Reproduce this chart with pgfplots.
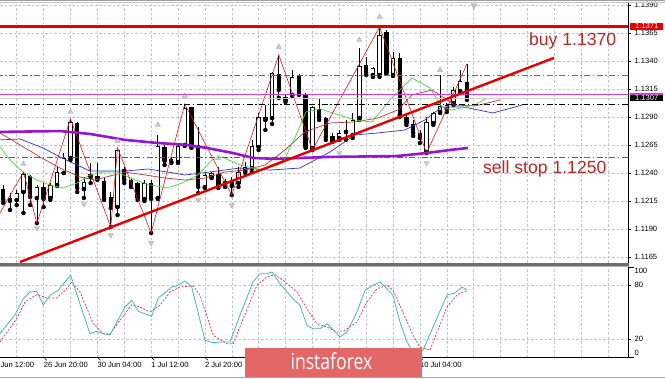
\documentclass[border=0pt]{standalone}
\usepackage{fontspec}
\setmainfont{Liberation Sans}
\newfontfamily\wmfont{Open Sans}
\usepackage{graphicx}
\usepackage{pgfplots}
\usepackage{pgfplotstable}
\pgfplotsset{compat=1.18}

\definecolor{hred}{RGB}{232,0,0}
\definecolor{zz}{RGB}{205,30,30}
\definecolor{ma}{RGB}{150,20,210}
\definecolor{jaw}{RGB}{50,50,190}
\definecolor{teeth}{RGB}{190,50,50}
\definecolor{lips}{RGB}{70,210,70}
\definecolor{stk}{RGB}{70,185,175}
\definecolor{std}{RGB}{215,50,70}
\definecolor{anno}{RGB}{180,40,40}
\definecolor{mag}{RGB}{210,60,210}
\definecolor{sgreen}{RGB}{40,130,40}
\definecolor{wm}{RGB}{226,104,104}
\definecolor{gridc}{RGB}{195,195,195}
\definecolor{sep}{RGB}{110,110,110}

\newcommand\tf{\fontsize{7.6}{8}\selectfont}

\pgfplotstableread{
k o h l c
2 1.12161 1.12250 1.12116 1.12223
3 1.12232 1.12410 1.12045 1.12393
5 1.12179 1.12295 1.11955 1.12277
7 1.12179 1.12312 1.12161 1.12295
8 1.12295 1.12455 1.12286 1.12410
9 1.12402 1.12580 1.12402 1.12536
10 1.12536 1.12884 1.12518 1.12857
12 1.12259 1.12366 1.12179 1.12321
17 1.12098 1.12625 1.12027 1.12607
21 1.12170 1.12339 1.12152 1.12312
23 1.12179 1.12741 1.12170 1.12643
25 1.12500 1.12545 1.12491 1.12527
26 1.12500 1.12652 1.12491 1.12643
27 1.12652 1.13017 1.12643 1.12982
30 1.12277 1.12402 1.12268 1.12384
31 1.12366 1.12410 1.12357 1.12402
33 1.12303 1.12348 1.12277 1.12330
35 1.12312 1.12455 1.12277 1.12410
36 1.12419 1.12500 1.12402 1.12455
37 1.12446 1.12697 1.12410 1.12643
38 1.12634 1.12937 1.12607 1.12901
39 1.12875 1.13008 1.12785 1.12901
40 1.12892 1.13303 1.12839 1.13294
42 1.13053 1.13098 1.13035 1.13080
43 1.13098 1.13321 1.13089 1.13258
46 1.12625 1.12999 1.12607 1.12991
50 1.12714 1.12785 1.12697 1.12759
51 1.12768 1.12875 1.12697 1.12785
52 1.12741 1.12937 1.12714 1.12875
53 1.12892 1.13517 1.12875 1.13356
55 1.13276 1.13347 1.13258 1.13338
56 1.13276 1.13704 1.13258 1.13633
58 1.13276 1.13481 1.13267 1.13428
63 1.12589 1.12901 1.12580 1.12857
64 1.12848 1.12946 1.12830 1.12937
65 1.12946 1.13276 1.12937 1.12999
66 1.12973 1.13026 1.12946 1.13008
67 1.13026 1.13169 1.13008 1.13142
68 1.13133 1.13321 1.13115 1.13222
}\bull

\pgfplotstableread{
k o h l c
0 1.12259 1.12295 1.12134 1.12161
1 1.12179 1.12223 1.12072 1.12152
4 1.12375 1.12384 1.12116 1.12188
6 1.12277 1.12312 1.12098 1.12170
11 1.12848 1.12857 1.12232 1.12268
13 1.12393 1.12491 1.12312 1.12366
14 1.12375 1.12491 1.12339 1.12357
15 1.12330 1.12357 1.12161 1.12179
16 1.12188 1.12232 1.11920 1.12089
18 1.12437 1.12455 1.12312 1.12339
19 1.12339 1.12357 1.12277 1.12303
20 1.12312 1.12321 1.12161 1.12179
22 1.12312 1.12339 1.11867 1.12170
24 1.12634 1.12652 1.12473 1.12509
28 1.12991 1.12991 1.12625 1.12634
29 1.12652 1.12812 1.12223 1.12277
32 1.12393 1.12455 1.12268 1.12286
34 1.12330 1.12366 1.12205 1.12286
41 1.13285 1.13454 1.13071 1.13142
44 1.13276 1.13285 1.13098 1.13106
45 1.13098 1.13115 1.12625 1.12634
47 1.12973 1.13071 1.12875 1.12901
48 1.12892 1.12901 1.12697 1.12723
49 1.12732 1.12759 1.12679 1.12688
54 1.13365 1.13437 1.13276 1.13294
57 1.13660 1.13677 1.13285 1.13294
59 1.13428 1.13472 1.12901 1.12919
60 1.12901 1.12937 1.12830 1.12848
61 1.12839 1.12875 1.12732 1.12759
62 1.12759 1.12785 1.12670 1.12714
69 1.13214 1.13374 1.13053 1.13071
}\bear

\pgfplotsset{
  mtaxis/.style={
    scale only axis, anchor=south west, width=628pt,
    xmin=-0.49, xmax=92.97,
    axis line style={draw=none},
    xtick={2,6,...,90}, xticklabels={}, x tick style={draw=none},
    xmajorgrids, ymajorgrids,
    grid style={gridc, dash pattern=on 2.5pt off 2pt, line width=0.5pt},
    ytick pos=right, yticklabel pos=right,
    tick align=outside, major tick length=3pt,
    y tick style={black, line width=0.5pt},
    yticklabel style={font=\tf, text=black},
    clip mode=individual,
  },
  wick/.style={only marks, mark=none, forget plot,
    error bars/.cd, y dir=plus, y explicit, error mark=none,
    error bar style={draw=black, line width=0.7pt}},
  bodyb/.style={only marks, mark=none, forget plot,
    error bars/.cd, y dir=plus, y explicit, error mark=none,
    error bar style={draw=black, line width=4.4pt}},
  bodyw/.style={only marks, mark=none, forget plot,
    error bars/.cd, y dir=plus, y explicit, error mark=none,
    error bar style={draw=white, line width=2.8pt, shorten <=0.8pt, shorten >=0.8pt}},
}

\begin{document}
\begin{tikzpicture}
\useasboundingbox (0,0) rectangle (665pt,379pt);
\fill[white] (0,0) rectangle (665pt,379pt);

% ---------------- main price panel ----------------
\begin{axis}[mtaxis, at={(0pt,116pt)}, height=260pt,
  ymin=1.11599, ymax=1.13918,
  ytick={1.1165,1.1190,1.1215,1.1240,1.1265,1.1290,1.1315,1.1340,1.1365,1.1390},
  yticklabels={1.1165,1.1190,1.1215,1.1240,1.1265,1.1290,1.1315,1.1340,1.1365,1.1390}]

% candles
\addplot[wick] table[x=k, y=l, y error expr=\thisrow{h}-\thisrow{l}] {\bull};
\addplot[wick] table[x=k, y=l, y error expr=\thisrow{h}-\thisrow{l}] {\bear};
\addplot[bodyb] table[x=k, y=o, y error expr=\thisrow{c}-\thisrow{o}] {\bull};
\addplot[bodyw] table[x=k, y=o, y error expr=\thisrow{c}-\thisrow{o}] {\bull};
\addplot[bodyb] table[x=k, y=c, y error expr=\thisrow{o}-\thisrow{c}] {\bear};

% moving average (thick purple)
\addplot[ma, line width=2.6pt] coordinates {
(-0.49,1.12768) (8.44,1.12776) (12.90,1.12750) (18.11,1.12697) (22.87,1.12670)
(27.34,1.12652) (30.3,1.12625) (34.18,1.12580) (37.16,1.12536) (40.73,1.12527)
(44.15,1.12536) (48.62,1.12545) (58.58,1.12553) (63.05,1.12580) (66.47,1.12607)
(69.15,1.12625)};

% alligator jaw
\addplot[jaw, line width=0.7pt] coordinates {
(-0.49,1.12697) (2.49,1.12705) (5.91,1.12625) (8.44,1.12545) (10.97,1.12473)
(12.90,1.12419) (18.11,1.12419) (21.53,1.12437) (24.51,1.12410) (27.04,1.12384)
(29.57,1.12402) (32.99,1.12428) (35.22,1.12446) (39.69,1.12428) (44.15,1.12446)
(48.62,1.12589) (52.33,1.12741) (55.75,1.12759) (59.77,1.12785) (62.75,1.12875)
(65.28,1.12991) (68.41,1.12991) (72.87,1.12937) (77.19,1.13008)};

% alligator teeth
\addplot[teeth, line width=0.7pt] coordinates {
(-0.49,1.12759) (2.49,1.12652) (5.46,1.12545) (8.44,1.12446) (11.41,1.12366)
(13.65,1.12339) (15.88,1.12375) (18.11,1.12410) (21.09,1.12384) (24.06,1.12357)
(27.04,1.12339) (30.01,1.12357) (32.99,1.12410) (35.97,1.12428) (38.94,1.12473)
(41.92,1.12607) (44.87,1.12768) (48.62,1.12848) (52.33,1.12857) (55.75,1.12892)
(58.72,1.12964) (60.82,1.13098) (63.8,1.13142) (67.22,1.13008) (70.19,1.12999)
(73.91,1.13053)};

% alligator lips
\addplot[lips, line width=0.7pt] coordinates {
(-0.49,1.12634) (1.0,1.12518) (2.93,1.12410) (5.01,1.12339) (6.95,1.12295)
(8.88,1.12268) (10.97,1.12312) (12.90,1.12384) (14.84,1.12410) (16.92,1.12410)
(19.6,1.12339) (21.83,1.12295) (24.51,1.12268) (26.59,1.12312) (28.97,1.12384)
(31.06,1.12518) (32.54,1.12545) (35.22,1.12473) (38.64,1.12428) (41.62,1.12491)
(43.71,1.12759) (45.04,1.12946) (47.13,1.12973) (49.06,1.12937) (52.33,1.12875)
(54.86,1.12857) (57.54,1.13053) (60.82,1.13249) (63.5,1.13160) (65.28,1.12991)
(66.77,1.12964) (70.19,1.13008) (71.98,1.13071)};

% zigzag
\addplot[zz, line width=0.6pt] coordinates {
(-0.49,1.12045) (3,1.12410) (5,1.11955) (10,1.12884) (16,1.11920) (17,1.12625)
(22,1.11867) (27,1.13017) (34,1.12205) (41,1.13454) (46,1.12607) (56,1.13704)
(63,1.12580) (69,1.13374)};

% fractals
\addplot[only marks, mark=triangle*, mark size=3pt,
  mark options={fill=gray!40, draw=gray!65, line width=0.4pt}] coordinates {
(3,1.12482) (10,1.12946) (17,1.12688) (23,1.12830) (27,1.13089) (32,1.12536)
(41,1.13526) (53,1.13588) (56,1.13793) (65,1.13321)};
\addplot[only marks, mark=triangle*, mark size=3pt,
  mark options={rotate=180, fill=gray!40, draw=gray!65, line width=0.4pt}] coordinates {
(5,1.11911) (12,1.12125) (16,1.11849) (22,1.11778) (29,1.12161) (34,1.12116)
(50,1.12580) (63,1.12491)};
% chart shift marker
\addplot[only marks, mark=triangle*, mark size=3.4pt,
  mark options={rotate=180, fill=gray!50, draw=gray!60}] coordinates {(70.05,1.13895)};

% horizontal levels
\addplot[gray!40, line width=0.6pt] coordinates {(-1,1.1307) (95,1.1307)};
\addplot[mag, line width=0.8pt] coordinates {(-1,1.1310) (95,1.1310)};
\addplot[gray!85!black, line width=1.3pt, dash pattern=on 6pt off 2.5pt on 1.5pt off 2.5pt] coordinates {(-1,1.1327) (95,1.1327)};
\addplot[black, line width=0.8pt, dash pattern=on 6pt off 2.5pt on 1.5pt off 2.5pt] coordinates {(-1,1.1301) (95,1.1301)};
\addplot[sgreen, line width=0.8pt, dash pattern=on 6pt off 2.5pt on 1.5pt off 2.5pt] coordinates {(-1,1.1254) (95,1.1254)};
\addplot[hred, line width=2.6pt] coordinates {(-1,1.1371) (95,1.1371)};

% support trend line
\addplot[hred, line width=2.4pt] coordinates {(2.49,1.11608) (81.95,1.13428)};

% annotations
\node[anchor=base west, inner sep=0, text=anno, font=\fontsize{17.6}{18}\selectfont] at (axis cs:78.23,1.13535) {buy 1.1370};
\node[anchor=base west, inner sep=0, text=anno, font=\fontsize{17.6}{18}\selectfont] at (axis cs:71.38,1.12393) {sell stop 1.1250};

% right axis line
\draw[black, line width=0.8pt] (rel axis cs:1,0) -- (rel axis cs:1,1);

% price boxes
\node[anchor=west, xshift=2pt, fill=hred, text=white, inner xsep=3.5pt, inner ysep=0.6pt, font=\tf, minimum width=33pt] at (axis cs:92.97,1.1371) {1.1371};
\fill[mag] ([xshift=2pt,yshift=-4pt]axis cs:92.97,1.1310) rectangle ([xshift=35pt,yshift=1.5pt]axis cs:92.97,1.1310);
\node[anchor=west, xshift=2pt, fill=black, text=white, inner xsep=3.5pt, inner ysep=0.6pt, font=\tf, minimum width=33pt] at (axis cs:92.97,1.1307) {1.1307};
\end{axis}

% panel separator
\fill[sep] (0,113pt) rectangle (629pt,116.2pt);
\draw[gray!60, line width=0.5pt] (0,112.6pt) -- (629pt,112.6pt);

% ---------------- stochastic panel ----------------
\begin{axis}[mtaxis, at={(0pt,21.7pt)}, height=90pt,
  ymin=0, ymax=100, ytick={20,80}, yticklabels={20,80}]
\addplot[std, line width=0.7pt, dash pattern=on 2pt off 1.5pt] coordinates {
(-0.49,17) (1.99,42.9) (3.23,61.4) (4.97,69.6) (6.46,65.9) (7.95,65.9) (9.18,74.4)
(10.18,83.7) (11.41,72.6) (13.39,37.3) (14.88,26.2) (15.88,26.2) (17.37,41.1)
(19.11,58.4) (20.34,55.9) (21.83,50.3) (23.32,57.8) (24.81,72.6) (26.29,78.1)
(28.27,79.2) (29.27,68.9) (31.25,24.4) (33.24,15.1) (34.23,15.1) (35.67,42.0)
(37.75,80) (39.24,89.2) (40.43,91.8) (41.62,85.6) (43.71,72.6) (45.19,54)
(46.68,37.3) (48.17,33.7) (49.66,28.1) (50.84,30) (52.63,39.2) (54.12,61.4)
(55.61,76.2) (57.1,80) (57.99,74.4) (59.48,50.3) (60.97,24.4) (62.01,11.4)
(63.5,8.1) (66.03,55.9) (67.52,69.2) (68.71,73.7) (69.0,72.6)};
\addplot[stk, line width=0.8pt] coordinates {
(-0.49,26.2) (1.74,47.3) (2.98,65.1) (3.97,72.6) (4.97,73.3) (5.95,58.4) (6.95,68.9)
(8.18,74.4) (9.18,83.7) (10.03,91.1) (11.16,65.1) (12.90,26.2) (13.90,28.9)
(14.88,26.2) (15.88,25.1) (18.11,55.9) (19.11,63.3) (20.09,51.1) (22.08,45.6)
(23.07,65.9) (24.06,71.8) (25.06,78.1) (25.80,79.2) (27.04,84.8) (28.04,78.1)
(30.01,18.9) (31.25,16.2) (32.25,17) (33.74,17) (35.22,46.7) (37.16,83.7)
(38.2,92.9) (39.24,92.9) (39.99,94.8) (41.18,81.8) (43.11,65.1) (44.15,57.8)
(45.19,35.6) (46.09,31.8) (47.13,31.8) (48.17,37.3) (48.91,31.8) (50.1,22.6)
(51.15,28.1) (52.63,50.3) (53.82,74.4) (55.01,80) (56.05,83.7) (57.1,76.2)
(57.99,68.9) (59.03,39.2) (60.07,17) (60.97,5.9) (62.01,4.8) (62.46,8.1)
(66.03,69.2) (67.22,71.4) (68.26,78.1) (69.0,74.8)};

\draw[black, line width=0.8pt] (rel axis cs:1,0) -- (rel axis cs:1,1);
\draw[black, line width=0.8pt] (rel axis cs:0,0) -- (rel axis cs:1,0);
\draw[black, line width=0.5pt] (axis cs:92.97,100) -- ++(3pt,0);
\draw[black, line width=0.5pt] (axis cs:92.97,0) -- ++(3pt,0);
\node[anchor=west, xshift=3pt, yshift=-3.7pt, font=\tf] at (axis cs:92.97,100) {100};
\node[anchor=west, xshift=3pt, yshift=4.4pt, font=\tf] at (axis cs:92.97,0) {0};

% date ticks and labels
\draw[black, line width=0.5pt] (axis cs:6,0) -- ++(0,-3pt);
\draw[black, line width=0.5pt] (axis cs:14,0) -- ++(0,-3pt);
\draw[black, line width=0.5pt] (axis cs:22,0) -- ++(0,-3pt);
\draw[black, line width=0.5pt] (axis cs:30,0) -- ++(0,-3pt);
\draw[black, line width=0.5pt] (axis cs:62,0) -- ++(0,-3pt);
\node[anchor=west, inner sep=0, font=\tf] at ([yshift=-7.7pt]axis cs:-2,0) {25 Jun 12:00};
\node[anchor=west, inner sep=0, font=\tf] at ([yshift=-7.7pt]axis cs:6,0) {26 Jun 20:00};
\node[anchor=west, inner sep=0, font=\tf] at ([yshift=-7.7pt]axis cs:14,0) {30 Jun 04:00};
\node[anchor=west, inner sep=0, font=\tf] at ([yshift=-7.7pt]axis cs:22,0) {1 Jul 12:00};
\node[anchor=west, inner sep=0, font=\tf] at ([yshift=-7.7pt]axis cs:30,0) {2 Jul 20:00};
\node[anchor=west, inner sep=0, font=\tf] at ([yshift=-7.7pt]axis cs:62,0) {10 Jul 04:00};
\end{axis}

% window borders
\draw[gray!75, line width=1pt] (0,378pt) -- (665pt,378pt);
\draw[gray!45, line width=0.6pt] (0,376.3pt) -- (665pt,376.3pt);
\draw[gray!70, line width=1pt] (0,1.5pt) -- (665pt,1.5pt);

% watermark
\fill[wm] (245pt,2pt) rectangle (422pt,31pt);
\node[anchor=base, inner sep=0, text=white] at (331.5pt,9pt)
  {\scalebox{0.8}[1]{\wmfont\fontsize{22}{22}\selectfont instaforex}};
\end{tikzpicture}
\end{document}
